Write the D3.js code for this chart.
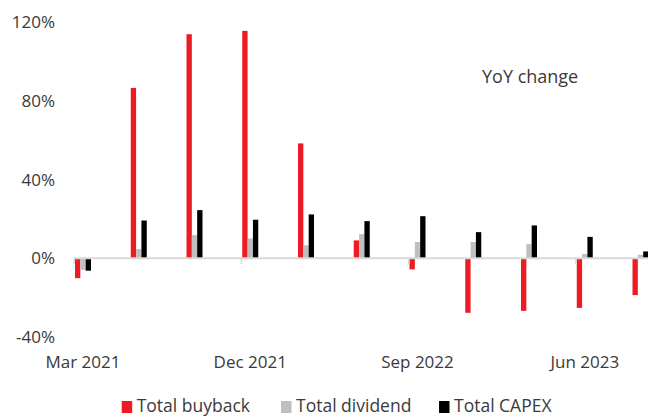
<!DOCTYPE html>
<html>
<head>
<meta charset="utf-8">
<script src="https://cdn.jsdelivr.net/npm/d3@7"></script>
<style>
  body { margin: 0; background: #fff; }
  text { font-family: "Open Sans", sans-serif; fill: #3a3a3a; }
</style>
</head>
<body>
<div id="chart"></div>
<script>

// quarterly YoY change, %
var quarters = ["Mar 2021", "Jun 2021", "Sep 2021", "Dec 2021", "Mar 2022", "Jun 2022",
                "Sep 2022", "Dec 2022", "Mar 2023", "Jun 2023", "Sep 2023"];
var buyback  = [-10.1, 86.6, 113.9, 115.6, 58.4, 9.1, -5.6, -27.7, -26.7, -25.2, -18.7];
var dividend = [-5.9, 4.7, 11.8, 10.1, 6.6, 12.3, 8.3, 8.3, 7.2, 2.2, 1.8];
var capex    = [-6.3, 19.2, 24.5, 19.6, 22.3, 18.9, 21.4, 13.3, 16.7, 10.9, 3.5];

var series_names = ["Total buyback", "Total dividend", "Total CAPEX"];
var series_values = [buyback, dividend, capex];
var y_ticks = [-40, 0, 40, 80, 120];

var colors = {"Total buyback": "#ed1c24", "Total dividend": "#bfbfbf", "Total CAPEX": "#000000"};

var width = 648, height = 417;

var svg = d3.select("#chart").append("svg")
    .attr("width", width)
    .attr("height", height);

var y = d3.scaleLinear().domain([-40, 120]).range([337, 22.2]);

var step = 55.75;
var x = d3.scaleBand()
    .domain(quarters)
    .range([73.7, 73.7 + step * quarters.length])
    .padding(0);

// bars sit at the left of each category
var x1 = d3.scaleBand().domain(series_names).range([1.3, 17.3]);
var group_mid = 9.3;

// y labels
svg.selectAll(".ylab")
    .data(y_ticks)
  .enter().append("text")
    .attr("class", "ylab")
    .attr("x", 55)
    .attr("y", function(d) { return y(d); })
    .attr("dy", "0.36em")
    .attr("text-anchor", "end")
    .style("font-size", "17px")
    .text(function(d) { return d + "%"; });

// bars
var rows = [];
quarters.forEach(function(q, i) {
    series_names.forEach(function(s, j) {
        rows.push({q: q, s: s, v: series_values[j][i]});
    });
});

svg.selectAll(".bar")
    .data(rows)
  .enter().append("rect")
    .attr("class", "bar")
    .attr("x", function(d) { return x(d.q) + x1(d.s); })
    .attr("width", x1.bandwidth())
    .attr("y", function(d) { return Math.min(y(d.v), y(0)); })
    .attr("height", function(d) { return Math.abs(y(d.v) - y(0)); })
    .attr("fill", function(d) { return colors[d.s]; });

// zero axis line and ticks
svg.append("line")
    .attr("x1", x.range()[0])
    .attr("x2", width)
    .attr("y1", y(0))
    .attr("y2", y(0))
    .attr("stroke", "#d9d9d9")
    .attr("stroke-width", 2);

var label_q = quarters.filter(function(d, i) { return i % 3 == 0; });

svg.selectAll(".xtick")
    .data(label_q)
  .enter().append("line")
    .attr("class", "xtick")
    .attr("x1", function(d) { return x(d) + 0.5; })
    .attr("x2", function(d) { return x(d) + 0.5; })
    .attr("y1", y(0))
    .attr("y2", y(0) + 6)
    .attr("stroke", "#d9d9d9")
    .attr("stroke-width", 1.5);

svg.selectAll(".xlab")
    .data(label_q)
  .enter().append("text")
    .attr("class", "xlab")
    .attr("x", function(d) { return x(d) + group_mid; })
    .attr("y", 368)
    .attr("text-anchor", "middle")
    .style("font-size", "17px")
    .text(function(d) { return d; });

// annotation
svg.append("text")
    .attr("x", 482)
    .attr("y", 83)
    .style("font-size", "18px")
    .text("YoY change");

// legend (kept just inside the bottom edge)
var legend_x = [121.7, 281, 439];
var legend = svg.selectAll(".legend")
    .data(series_names)
  .enter().append("g")
    .attr("class", "legend")
    .attr("transform", function(d, i) { return "translate(" + legend_x[i] + ",0)"; });

legend.append("rect")
    .attr("x", 0)
    .attr("y", 401)
    .attr("width", 10.5)
    .attr("height", 12)
    .attr("fill", function(d) { return colors[d]; });

legend.append("text")
    .attr("x", 15)
    .attr("y", 412)
    .style("font-size", "17.5px")
    .text(function(d) { return d; });

</script>
</body>
</html>
